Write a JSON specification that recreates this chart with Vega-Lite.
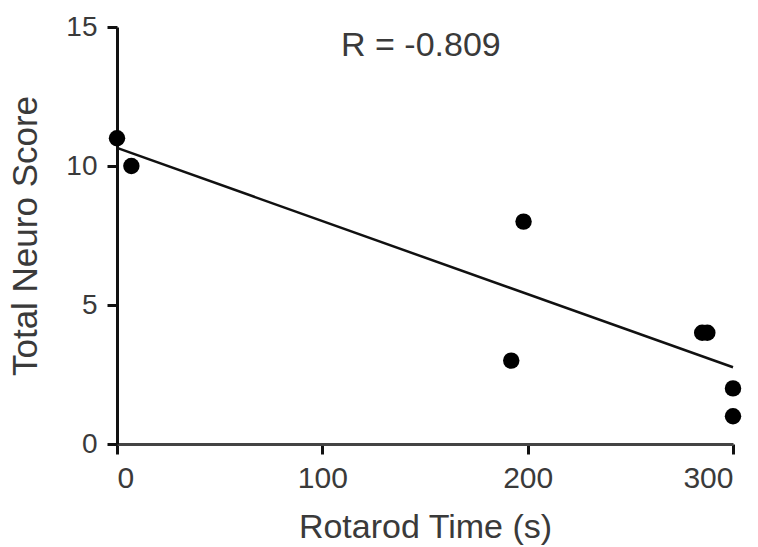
{
  "$schema": "https://vega.github.io/schema/vega-lite/v6.json",
  "width": 616,
  "height": 417,
  "autosize": {"type": "none"},
  "padding": {"left": 117, "top": 27, "right": 25, "bottom": 103},
  "background": "white",
  "config": {
    "view": {"stroke": null},
    "font": "Liberation Sans",
    "axis": {
      "grid": false,
      "domainColor": "#111",
      "domainWidth": 3,
      "tickColor": "#111",
      "tickWidth": 3,
      "tickSize": 10,
      "labelFont": "Liberation Sans",
      "labelColor": "#3a3a3a",
      "titleFont": "Liberation Sans",
      "titleFontWeight": "normal",
      "titleColor": "#3a3a3a"
    }
  },
  "layer": [
    {
      "data": {"values": [
        {"time": 0, "score": 11},
        {"time": 7, "score": 10},
        {"time": 192, "score": 3},
        {"time": 198, "score": 8},
        {"time": 285, "score": 4},
        {"time": 287.5, "score": 4},
        {"time": 300, "score": 2},
        {"time": 300, "score": 1}
      ]},
      "mark": {"type": "circle", "size": 270, "color": "#000", "opacity": 1, "clip": false},
      "encoding": {
        "x": {"field": "time", "type": "quantitative",
              "scale": {"domain": [0, 300], "nice": false},
              "axis": {"values": [0, 100, 200, 300], "title": "Rotarod Time (s)", "labelFontSize": 30, "titleFontSize": 34, "labelPadding": 9, "titlePadding": 17, "domainColor": "#444"}},
        "y": {"field": "score", "type": "quantitative",
              "scale": {"domain": [0, 15], "nice": false},
              "axis": {"values": [0, 5, 10, 15], "title": "Total Neuro Score", "labelFontSize": 28, "titleFontSize": 35, "labelPadding": 10, "titlePadding": 22}}
      }
    },
    {
      "data": {"values": [
        {"time": 0, "fit": 10.65},
        {"time": 300, "fit": 2.76}
      ]},
      "mark": {"type": "line", "color": "#111", "strokeWidth": 2.5},
      "encoding": {
        "x": {"field": "time", "type": "quantitative"},
        "y": {"field": "fit", "type": "quantitative"}
      }
    },
    {
      "data": {"values": [
        {"time": 148, "score": 14.3, "label": "R = -0.809"}
      ]},
      "mark": {"type": "text", "fontSize": 34, "color": "#3a3a3a", "font": "Liberation Sans", "align": "center", "baseline": "middle"},
      "encoding": {
        "x": {"field": "time", "type": "quantitative"},
        "y": {"field": "score", "type": "quantitative"},
        "text": {"field": "label"}
      }
    }
  ]
}
